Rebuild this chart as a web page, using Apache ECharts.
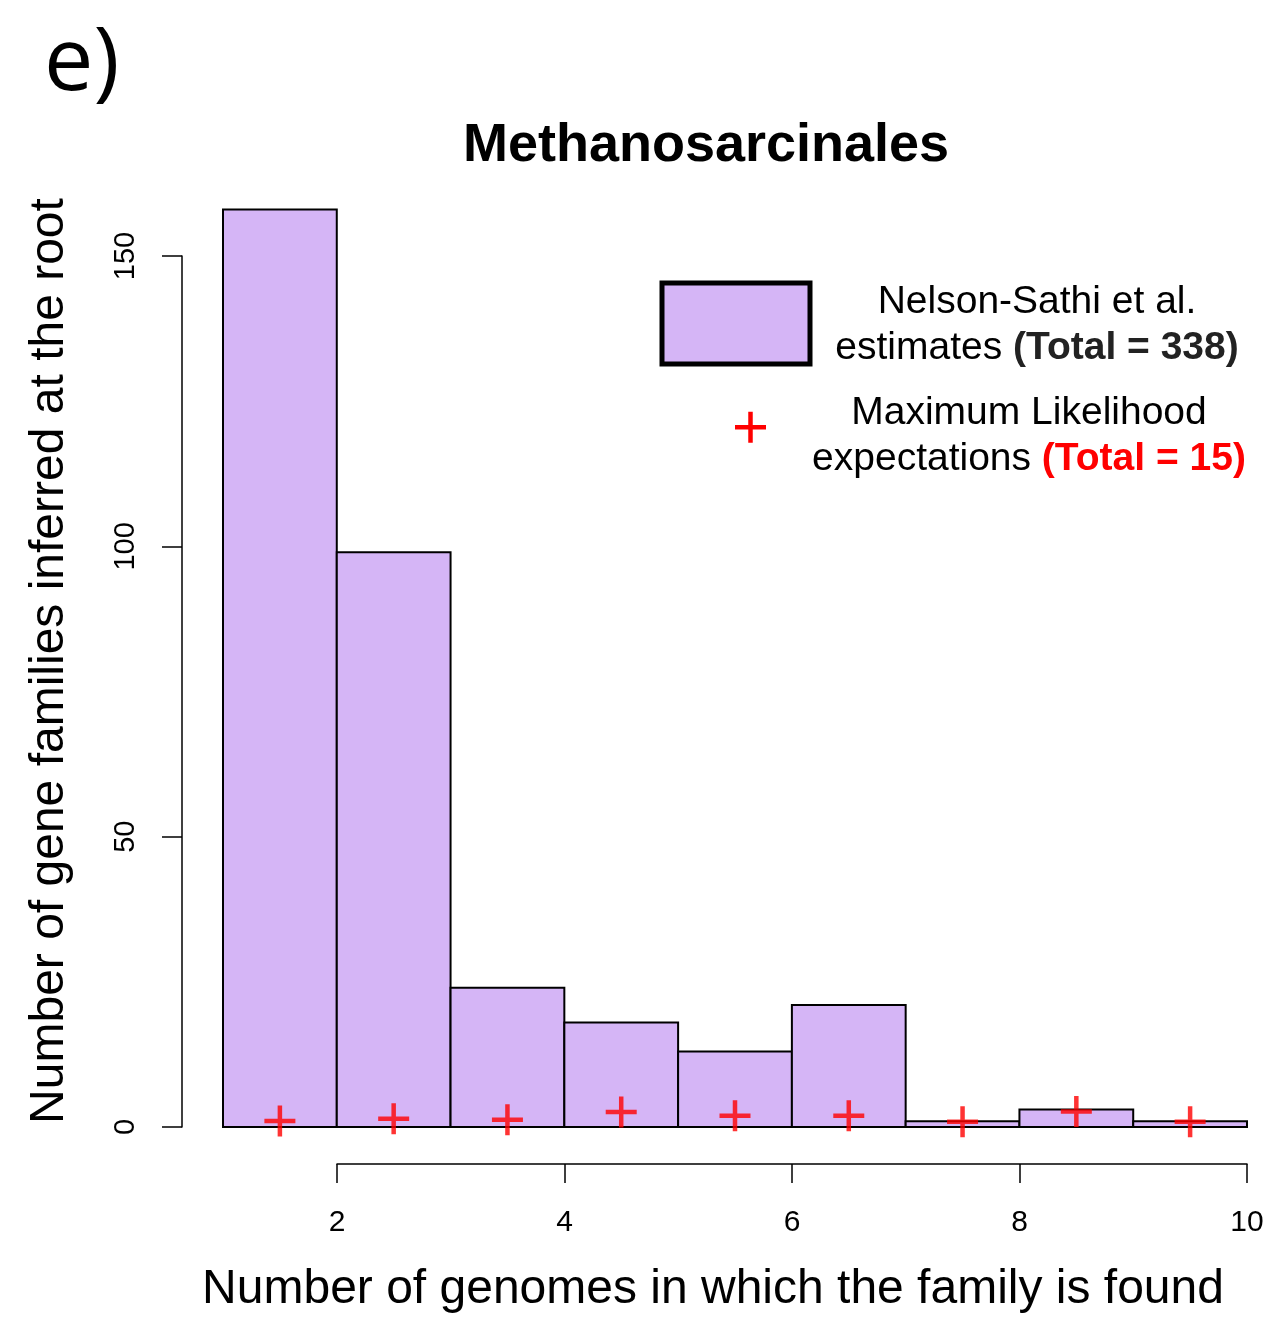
<!DOCTYPE html>
<html>
<head>
<meta charset="utf-8">
<script src="https://cdn.jsdelivr.net/npm/echarts@6/dist/echarts.min.js"></script>
<style>
  html, body { margin: 0; padding: 0; background: #fff; }
  #chart { width: 1270px; height: 1317px; }
</style>
</head>
<body>
<div id="chart"></div>
<script>
// histogram bins (number of genomes), left edges; each bin is 1 wide
const binStarts = [1, 2, 3, 4, 5, 6, 7, 8, 9];
// Nelson-Sathi et al. estimates (Total = 338)
const nelsonCounts = [158, 99, 24, 18, 13, 21, 1, 3, 1];
// Maximum likelihood expectations (Total = 15)
const mlExpected = [1.05, 1.4, 1.25, 2.6, 1.95, 1.95, 0.9, 2.65, 0.9];

const FONT = '"Liberation Sans", Arial, sans-serif';
const FILL = '#D5B5F6';

var grafico = echarts.init(document.getElementById('chart'));

var opcoes = {
  animation: false,
  backgroundColor: '#ffffff',
  grid: [
    // area do histograma
    { left: 223, width: 1024, top: 198, height: 929 },
    // eixo y estilo R (0..150)
    { left: 182, width: 1065, top: 256, height: 871 },
    // eixo x estilo R (2..10)
    { left: 337, width: 910, top: 256, height: 871 }
  ],
  xAxis: [
    { gridIndex: 0, type: 'value', min: 1, max: 10, show: false },
    { gridIndex: 1, type: 'value', min: 0, max: 1, show: false },
    {
      gridIndex: 2, type: 'value', min: 2, max: 10, interval: 2,
      position: 'bottom', offset: 37,
      axisLine: { show: true, onZero: false, lineStyle: { color: '#000', width: 1.5 } },
      axisTick: { show: true, length: 19, lineStyle: { color: '#000', width: 1.5 } },
      axisLabel: { color: '#000', fontSize: 30, fontFamily: FONT, margin: 44, showMinLabel: true, showMaxLabel: true },
      splitLine: { show: false }
    }
  ],
  yAxis: [
    { gridIndex: 0, type: 'value', min: 0, max: 160, show: false },
    {
      gridIndex: 1, type: 'value', min: 0, max: 150, interval: 50,
      position: 'left',
      axisLine: { show: true, onZero: false, lineStyle: { color: '#000', width: 1.5 } },
      axisTick: { show: true, length: 20, lineStyle: { color: '#000', width: 1.5 } },
      axisLabel: { color: '#000', fontSize: 29, fontFamily: FONT, rotate: 90, margin: 42 },
      splitLine: { show: false }
    },
    { gridIndex: 2, type: 'value', min: 0, max: 1, show: false }
  ],
  series: [
    {
      name: 'Nelson-Sathi et al.',
      type: 'custom',
      xAxisIndex: 0,
      yAxisIndex: 0,
      data: binStarts.map((b, i) => [b, b + 1, nelsonCounts[i]]),
      renderItem: function (params, api) {
        var p0 = api.coord([api.value(0), 0]);
        var p1 = api.coord([api.value(1), api.value(2)]);
        return {
          type: 'rect',
          shape: { x: p0[0], y: p1[1], width: p1[0] - p0[0], height: p0[1] - p1[1] },
          style: { fill: FILL, stroke: '#000', lineWidth: 2 }
        };
      },
      z: 2
    },
    {
      name: 'Maximum Likelihood',
      type: 'scatter',
      xAxisIndex: 0,
      yAxisIndex: 0,
      data: binStarts.map((b, i) => [b + 0.5, mlExpected[i]]),
      symbol: 'path://M13.25,0h4.5v13.25h13.25v4.5h-13.25v13.25h-4.5v-13.25h-13.25v-4.5h13.25z',
      symbolSize: 31,
      itemStyle: { color: '#FF0000' },
      z: 5
    }
  ],
  graphic: [
    {
      type: 'text', left: 44, top: 21,
      style: { text: 'e)', font: '88px "Open Sans", sans-serif', fill: '#000' }
    },
    {
      type: 'text', x: 706, y: 146,
      style: { text: 'Methanosarcinales', font: 'bold 54px ' + FONT, fill: '#000', textAlign: 'center', textVerticalAlign: 'middle' }
    },
    {
      type: 'text', x: 713, y: 1290,
      style: { text: 'Number of genomes in which the family is found', font: '48px ' + FONT, fill: '#000', textAlign: 'center', textVerticalAlign: 'middle' }
    },
    {
      type: 'text', x: 50, y: 661, rotation: Math.PI / 2,
      style: { text: 'Number of gene families inferred at the root', font: '48px ' + FONT, fill: '#000', textAlign: 'center', textVerticalAlign: 'middle' }
    },
    // legenda
    {
      type: 'rect', shape: { x: 662, y: 283, width: 148, height: 81 },
      style: { fill: FILL, stroke: '#000', lineWidth: 5 }
    },
    { type: 'rect', shape: { x: 735, y: 425, width: 31, height: 4.5 }, style: { fill: '#FF0000' } },
    { type: 'rect', shape: { x: 748.25, y: 411.75, width: 4.5, height: 31 }, style: { fill: '#FF0000' } },
    {
      type: 'text', x: 1037, y: 302,
      style: { text: 'Nelson-Sathi et al.', font: '39px ' + FONT, fill: '#000', textAlign: 'center', textVerticalAlign: 'middle' }
    },
    {
      type: 'text', x: 1037, y: 348,
      style: {
        text: 'estimates {b|(Total = 338)}', font: '39px ' + FONT, fill: '#000',
        textAlign: 'center', textVerticalAlign: 'middle',
        rich: { b: { fontWeight: 'bold', fontSize: 39, fontFamily: FONT, fill: '#222' } }
      }
    },
    {
      type: 'text', x: 1029, y: 413,
      style: { text: 'Maximum Likelihood', font: '39px ' + FONT, fill: '#000', textAlign: 'center', textVerticalAlign: 'middle' }
    },
    {
      type: 'text', x: 1029, y: 459,
      style: {
        text: 'expectations {r|(Total = 15)}', font: '39px ' + FONT, fill: '#000',
        textAlign: 'center', textVerticalAlign: 'middle',
        rich: { r: { fontWeight: 'bold', fontSize: 39, fontFamily: FONT, fill: '#FF0000' } }
      }
    }
  ]
};

grafico.setOption(opcoes);
window.addEventListener('resize', () => grafico.resize());
</script>
</body>
</html>
